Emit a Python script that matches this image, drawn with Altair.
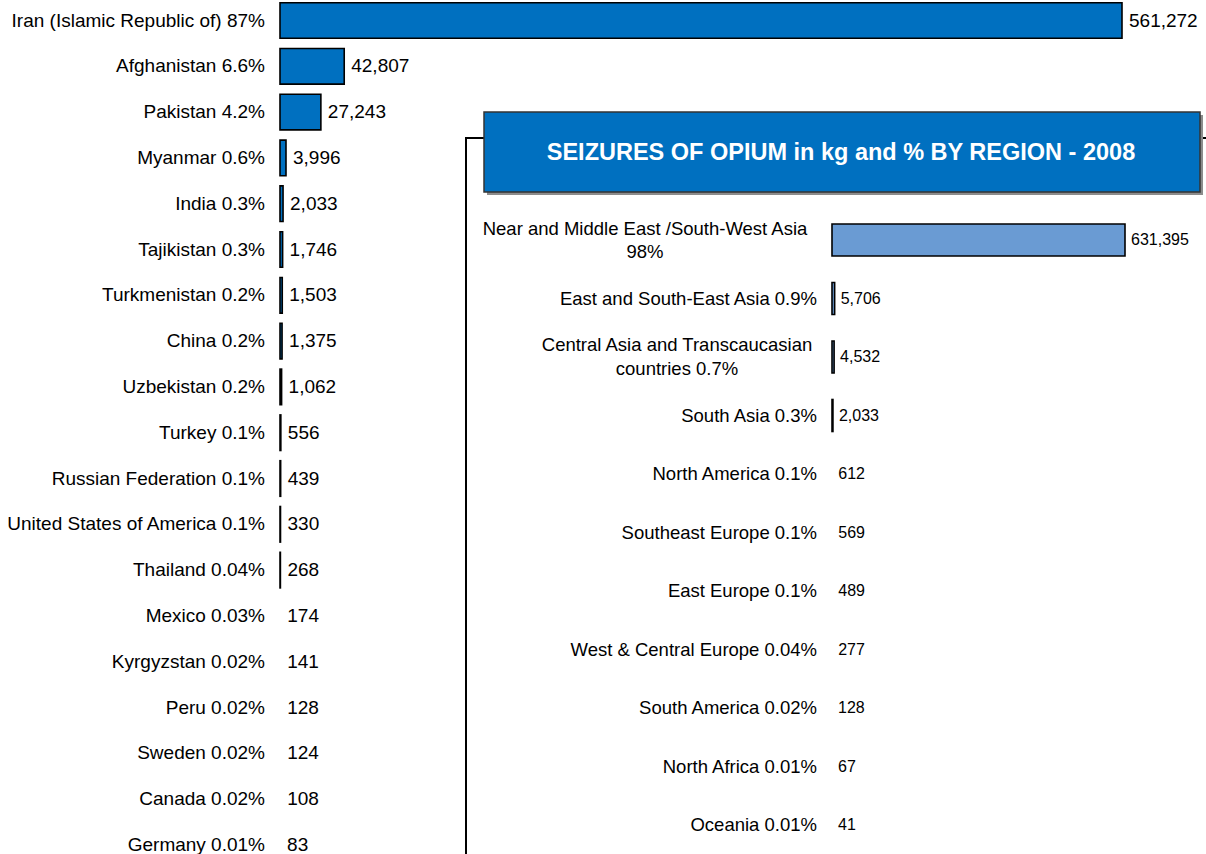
import altair as alt
import pandas as pd

FONT = "Liberation Sans"

# ---- Countries (left chart) ----
countries = ["Iran (Islamic Republic of)", "Afghanistan", "Pakistan", "Myanmar", "India",
             "Tajikistan", "Turkmenistan", "China", "Uzbekistan", "Turkey",
             "Russian Federation", "United States of America", "Thailand", "Mexico",
             "Kyrgyzstan", "Peru", "Sweden", "Canada", "Germany"]
country_kg = [561272, 42807, 27243, 3996, 2033, 1746, 1503, 1375, 1062, 556,
              439, 330, 268, 174, 141, 128, 124, 108, 83]
country_pct = ["87%", "6.6%", "4.2%", "0.6%", "0.3%", "0.3%", "0.2%", "0.2%", "0.2%", "0.1%",
               "0.1%", "0.1%", "0.04%", "0.03%", "0.02%", "0.02%", "0.02%", "0.02%", "0.01%"]

# ---- Regions (inset chart) ----
regions = ["Near and Middle East /South-West Asia", "East and South-East Asia",
           "Central Asia and Transcaucasian countries", "South Asia", "North America",
           "Southeast Europe", "East Europe", "West & Central Europe", "South America",
           "North Africa", "Oceania"]
region_kg = [631395, 5706, 4532, 2033, 612, 569, 489, 277, 128, 67, 41]
region_pct = ["98%", "0.9%", "0.7%", "0.3%", "0.1%", "0.1%", "0.1%", "0.04%", "0.02%",
              "0.01%", "0.01%"]
region_labels = ["Near and Middle East /South-West Asia\n98%",
                 "East and South-East Asia  0.9%",
                 "Central Asia and Transcaucasian\ncountries  0.7%",
                 "South Asia  0.3%", "North America  0.1%", "Southeast Europe  0.1%",
                 "East Europe  0.1%", "West & Central Europe  0.04%",
                 "South America  0.02%", "North Africa  0.01%", "Oceania  0.01%"]

title_text = "SEIZURES OF OPIUM in kg and % BY REGION - 2008"

left_df = pd.DataFrame({
    "country": countries,
    "kg": country_kg,
    "label": [f"{c} {p}" for c, p in zip(countries, country_pct)],
})
right_df = pd.DataFrame({
    "region": regions,
    "kg": region_kg,
    "label": region_labels,
})

# ---- left chart ----
ysc_l = alt.Scale(domain=countries, range=[-2.4, 867.8], paddingInner=0.223, paddingOuter=0.1115)
xsc_l = alt.Scale(domain=[0, 561272], nice=False, zero=True)
yl = alt.Y("country:N", scale=ysc_l, axis=None, sort=None)

base_l = alt.Chart(left_df)
bars_l = base_l.mark_bar(color="#0070C0", stroke="black", strokeWidth=1.6).encode(
    y=yl,
    x=alt.X("kg:Q", scale=xsc_l, axis=None),
    opacity=alt.condition("datum.kg >= 200", alt.value(1), alt.value(0)),
)
names_l = base_l.mark_text(align="right", baseline="middle", dx=-15, fontSize=19,
                           font=FONT, color="black").encode(
    y=yl, x=alt.value(0), text="label:N")
vals_l = base_l.mark_text(align="left", baseline="middle", dx=7, fontSize=19,
                          font=FONT, color="black").encode(
    y=yl, x=alt.X("kg:Q", scale=xsc_l, axis=None), text=alt.Text("kg:Q", format=","))
left = alt.layer(bars_l, names_l, vals_l)

# ---- decorations (inset frame and title box) ----
one = pd.DataFrame({"a": [0]})
frame = alt.Chart(one).mark_rect(fill="white", stroke="black", strokeWidth=2).encode(
    x=alt.value(186), x2=alt.value(960), y=alt.value(138), y2=alt.value(900))
shadow = alt.Chart(one).mark_rect(fill="#8c8c8c").encode(
    x=alt.value(207), x2=alt.value(923), y=alt.value(115), y2=alt.value(195))
tbox = alt.Chart(one).mark_rect(fill="#0070C0", stroke="#333333", strokeWidth=1.5).encode(
    x=alt.value(204), x2=alt.value(920), y=alt.value(112), y2=alt.value(192))
ttext = alt.Chart(one).mark_text(align="center", baseline="middle", fontSize=23.5,
                                 fontWeight="bold", font=FONT, color="white").encode(
    x=alt.value(561), y=alt.value(153), text=alt.value(title_text))

# ---- inset chart ----
ysc_r = alt.Scale(domain=regions, range=[210.75, 854.25], paddingInner=0.453, paddingOuter=0.2265)
xsc_r = alt.Scale(domain=[0, 631395], range=[552, 845], nice=False, zero=True)
yr = alt.Y("region:N", scale=ysc_r, axis=None, sort=None)
xr = alt.X("kg:Q", scale=xsc_r, axis=None)
xzero = alt.X("zero:Q", scale=xsc_r, axis=None)

base_r = alt.Chart(right_df)
bars_r = base_r.mark_bar(color="#6A9BD3", stroke="black", strokeWidth=1.6).encode(
    y=yr, x=xr,
    opacity=alt.condition("datum.kg >= 1000", alt.value(1), alt.value(0)),
)
names_r = base_r.mark_text(align="right", baseline="middle", dx=-15, fontSize=18.5,
                           font=FONT, color="black").transform_filter(
    "indexof(datum.label, '\\n') < 0").transform_calculate(zero="0").encode(
    y=yr, x=xzero, text="label:N")
names_r1 = base_r.mark_text(align="center", baseline="middle", dx=-187, dy=-11.5,
                            fontSize=18.5, lineBreak="\n", lineHeight=23, font=FONT,
                            color="black").transform_filter(
    alt.datum.region == regions[0]).transform_calculate(zero="0").encode(
    y=yr, x=xzero, text="label:N")
names_r2 = base_r.mark_text(align="center", baseline="middle", dx=-155, dy=-12,
                            fontSize=18.5, lineBreak="\n", lineHeight=24, font=FONT,
                            color="black").transform_filter(
    alt.datum.region == regions[2]).transform_calculate(zero="0").encode(
    y=yr, x=xzero, text="label:N")
vals_r = base_r.mark_text(align="left", baseline="middle", dx=6, fontSize=16,
                          font=FONT, color="black").encode(
    y=yr, x=xr, text=alt.Text("kg:Q", format=","))
right = alt.layer(bars_r, names_r, names_r1, names_r2, vals_r)

chart = alt.layer(left, frame, shadow, tbox, ttext, right).resolve_scale(
    x="independent", y="independent"
).properties(
    width=842, height=854,
    autosize=alt.AutoSizeParams(type="none"),
    padding={"left": 280, "top": 0, "right": 84, "bottom": 0},
    background="white",
).configure_view(strokeWidth=0)

chart.save("out.html", embed_options={"renderer": "svg", "actions": False})
